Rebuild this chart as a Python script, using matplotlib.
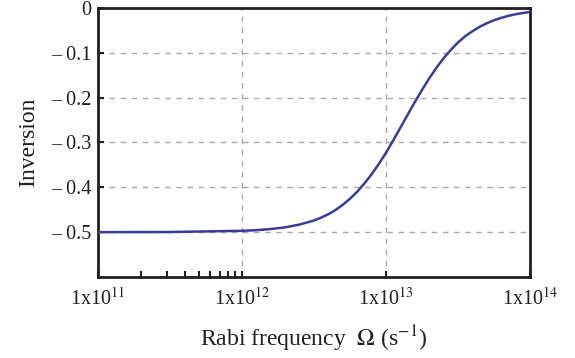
import numpy as np
import matplotlib.pyplot as plt
from matplotlib.ticker import FixedLocator, NullFormatter

plt.rcParams['font.family'] = 'Liberation Serif'
plt.rcParams['mathtext.fontset'] = 'stix'

# valores (log10 de Omega, inversion)
log_omega = [11.0, 11.5, 12.0, 12.1, 12.2, 12.3, 12.4, 12.5, 12.55, 12.6, 12.65,
             12.7, 12.75, 12.8, 12.85, 12.9, 12.95, 13.0, 13.05, 13.1, 13.15,
             13.2, 13.25, 13.3, 13.35, 13.4, 13.45, 13.5, 13.55, 13.6, 13.65,
             13.7, 13.75, 13.8, 13.85, 13.9, 13.95, 14.0]
inversion = [-0.500, -0.4997, -0.497, -0.4956, -0.493, -0.4893, -0.483, -0.474,
             -0.4675, -0.460, -0.4505, -0.439, -0.4255, -0.410, -0.3915, -0.371,
             -0.348, -0.323, -0.2955, -0.267, -0.2385, -0.210, -0.183, -0.157,
             -0.1335, -0.112, -0.0935, -0.077, -0.063, -0.052, -0.042, -0.034,
             -0.0275, -0.022, -0.0175, -0.014, -0.0112, -0.009]

yticks = [0, -0.1, -0.2, -0.3, -0.4, -0.5]
ytick_labels = ['0', '\u2013 0.1', '\u2013 0.2', '\u2013 0.3', '\u2013 0.4', '\u2013 0.5']
xticks = [1e11, 1e12, 1e13, 1e14]
xtick_labels = [r'1x10$^{11}$', r'1x10$^{12}$', r'1x10$^{13}$', r'1x10$^{14}$']
minor_x = [2e11, 3e11, 4e11, 5e11, 6e11, 7e11, 8e11, 9e11]

omega = 10.0 ** np.array(log_omega)

fig = plt.figure(figsize=(5.75, 3.58), dpi=100)
ax = fig.add_axes([0.1704, 0.2263, 0.7513, 0.7514])

ax.plot(omega, inversion, '-', color='#3b3b9b', lw=1.8, zorder=3,
        solid_joinstyle='round')

ax.set_xscale('log')
ax.set_xlim(1e11, 1e14)
ax.set_ylim(-0.6, 0)

ax.set_xticks(xticks)
ax.set_xticklabels(xtick_labels)
ax.xaxis.set_minor_locator(FixedLocator(minor_x))
ax.xaxis.set_minor_formatter(NullFormatter())
ax.set_yticks(yticks)
ax.set_yticklabels(ytick_labels)

ax.tick_params(axis='both', which='major', direction='in', length=4, width=1.5,
               labelsize=14.5, color='#231f20', labelcolor='#231f20')
ax.tick_params(axis='x', which='major', pad=8)
ax.tick_params(axis='y', which='major', pad=5)
ax.tick_params(axis='x', which='minor', direction='in', length=4, width=1.5,
               color='#231f20')

for sp in ax.spines.values():
    sp.set_linewidth(2)
    sp.set_color('#231f20')

for x in [1e12, 1e13]:
    ax.axvline(x, color='#aaaaaa', lw=1, ls=(0, (4, 4)), zorder=1)
for y in yticks[1:]:
    ax.axhline(y, color='#aaaaaa', lw=1, ls=(0, (4, 4)), zorder=1)

ax.set_xlabel(r'Rabi frequency  $\Omega$ (s$^{-1}$)', fontsize=17, labelpad=10,
              color='#231f20')
ax.set_ylabel('Inversion', fontsize=17, labelpad=8, color='#231f20')

fig.savefig('out.png', dpi=100)
